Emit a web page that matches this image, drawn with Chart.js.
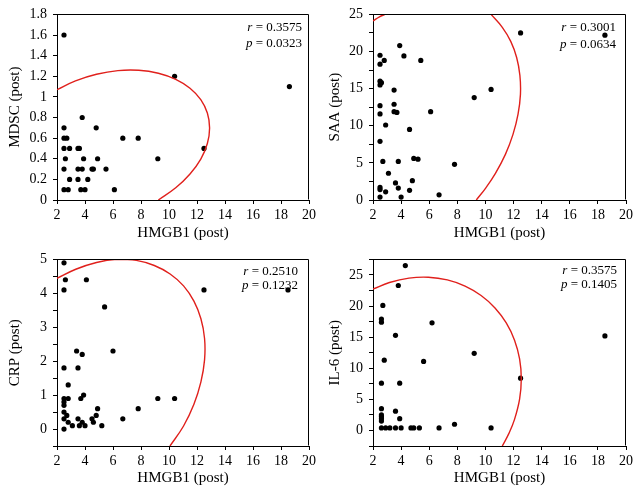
<!DOCTYPE html>
<html>
<head>
<meta charset="utf-8">
<script src="https://cdn.jsdelivr.net/npm/chart.js@4.4.0/dist/chart.umd.min.js"></script>
<style>
  body { margin: 0; background: #fff; }
  #wrap { position: relative; width: 640px; height: 497px; background: #fff; }
  #wrap canvas { position: absolute; }
</style>
</head>
<body>
<div id="wrap">
  <canvas id="c1" width="320" height="245" style="left:0;top:0"></canvas>
  <canvas id="c2" width="320" height="245" style="left:320px;top:0"></canvas>
  <canvas id="c3" width="320" height="252" style="left:0;top:245px"></canvas>
  <canvas id="c4" width="320" height="252" style="left:320px;top:245px"></canvas>
</div>
<script>
// ---- data: HMGB1 (post) vs marker ----
const mdscX = [2.5, 10.4, 18.6, 3.8, 2.5, 4.8, 2.5, 2.7, 6.7, 7.8, 2.5, 2.9, 3.5, 3.6, 12.5, 2.6, 3.9, 4.9, 9.2,
  2.5, 3.5, 3.8, 4.5, 4.6, 5.5, 2.9, 3.5, 4.2, 2.5, 2.8, 3.7, 4.0, 6.1];
const mdscY = [1.6, 1.2, 1.1, 0.8, 0.7, 0.7, 0.6, 0.6, 0.6, 0.6, 0.5, 0.5, 0.5, 0.5, 0.5, 0.4, 0.4, 0.4, 0.4,
  0.3, 0.3, 0.3, 0.3, 0.3, 0.3, 0.2, 0.2, 0.2, 0.1, 0.1, 0.1, 0.1, 0.1];

const saaX = [2.5, 3.9, 2.5, 2.8, 4.2, 5.4, 2.5, 2.6, 2.5, 3.5, 2.5, 3.5, 2.5, 3.5, 3.7, 6.1, 9.2, 10.4, 2.9, 4.6,
  2.5, 2.7, 3.8, 4.9, 5.2, 7.8, 3.1, 3.6, 4.8, 2.5, 2.5, 2.9, 3.8, 4.6, 2.5, 4.0, 6.7, 12.5, 18.5];
const saaY = [19.5, 20.8, 18.3, 18.8, 19.4, 18.8, 16.0, 15.8, 15.5, 14.8, 12.7, 12.9, 11.6, 11.9, 11.8, 11.9, 13.8, 14.9, 10.1, 9.5,
  7.9, 5.2, 5.2, 5.6, 5.5, 4.8, 3.6, 2.3, 2.6, 1.7, 1.4, 1.1, 1.6, 1.3, 0.4, 0.4, 0.7, 22.5, 22.2];

const crpX = [2.5, 2.6, 4.1, 2.5, 12.5, 18.5, 5.4, 3.4, 3.8, 6.0, 2.5, 3.5, 2.8, 3.9, 3.7, 2.5, 2.8, 2.5, 2.5,
  2.5, 2.7, 2.5, 2.8, 3.1, 3.5, 3.6, 3.8, 4.0, 4.5, 4.6, 4.8, 4.9, 5.2, 6.7, 7.8, 9.2, 10.4, 2.5];
const crpY = [4.9, 4.4, 4.4, 4.1, 4.1, 4.1, 3.6, 2.3, 2.2, 2.3, 1.8, 1.8, 1.3, 1.0, 0.9, 0.9, 0.9, 0.8, 0.7,
  0.5, 0.4, 0.3, 0.2, 0.1, 0.3, 0.1, 0.2, 0.1, 0.3, 0.2, 0.4, 0.6, 0.1, 0.3, 0.6, 0.9, 0.9, 0.0];

const il6X = [4.3, 3.8, 2.7, 2.6, 2.6, 6.2, 3.6, 18.5, 9.2, 2.8, 5.6, 2.6, 3.9, 12.5, 2.6, 3.6, 2.6, 2.6, 2.6, 2.6,
  3.9, 7.8, 2.6, 2.9, 3.2, 3.6, 4.0, 4.7, 4.9, 5.3, 6.7, 10.4];
const il6Y = [26.5, 23.3, 20.1, 17.9, 17.4, 17.3, 15.3, 15.2, 12.4, 11.3, 11.1, 7.6, 7.6, 8.4, 3.5, 3.1, 2.5, 2.2, 1.9, 1.5,
  1.9, 1.0, 0.4, 0.4, 0.4, 0.4, 0.4, 0.4, 0.4, 0.4, 0.4, 0.4];

// red ellipse outlines
const mdscCurveX = [2, 3.32, 4.82, 6.35, 7.84, 9.24, 10.48, 11.5, 12.27, 12.74, 12.9, 12.74, 12.27, 11.5, 10.48, 9.24];
const mdscCurveY = [1.07, 1.156, 1.22, 1.255, 1.258, 1.229, 1.17, 1.084, 0.973, 0.843, 0.699, 0.548, 0.397, 0.252, 0.118, 0];
const saaCurveX = [10.4, 11.2, 11.8, 12.22, 12.45, 12.49, 12.32, 11.96, 11.42, 10.7, 10.03, 9.35];
const saaCurveY = [25, 23.26, 21.37, 19.2, 16.8, 14.23, 11.56, 8.84, 6.15, 3.55, 1.64, 0];
const saaCurve2X = [2, 2.46, 2.85];
const saaCurve2Y = [24.12, 24.68, 25];
const crpCurveX = [2, 3.34, 4.82, 6.28, 7.67, 8.95, 10.08, 11.04, 11.78, 12.28, 12.54, 12.54, 12.28, 11.78, 11.04, 10.07];
const crpCurveY = [4.44, 4.71, 4.91, 5.0, 4.97, 4.82, 4.57, 4.22, 3.77, 3.25, 2.67, 2.04, 1.39, 0.73, 0.09, -0.5];
const il6CurveX = [2, 3.17, 4.56, 5.94, 7.29, 8.55, 9.69, 10.68, 11.48, 12.07, 12.43, 12.55, 12.43, 12.07, 11.68, 11.2];
const il6CurveY = [22.73, 23.78, 24.49, 24.63, 24.2, 23.21, 21.7, 19.7, 17.29, 14.52, 11.49, 8.3, 5.03, 1.78, -0.43, -2.5];

const SERIF = '"Liberation Serif", "DejaVu Serif", serif';

function toPts(xs, ys) {
  return xs.map((x, i) => ({ x: x, y: ys[i] }));
}

// frame on top/right + r / p text
const framePlugin = {
  id: 'frame',
  afterDraw(chart, args, opts) {
    const a = chart.chartArea;
    const ctx = chart.ctx;
    ctx.save();
    ctx.strokeStyle = '#000';
    ctx.lineWidth = 1;
    ctx.beginPath();
    ctx.moveTo(Math.round(a.left) + 0.5, Math.round(a.top) + 0.5);
    ctx.lineTo(Math.round(a.right) - 0.5, Math.round(a.top) + 0.5);
    ctx.lineTo(Math.round(a.right) - 0.5, Math.round(a.bottom) - 0.5);
    ctx.stroke();

    ctx.fillStyle = '#000';
    ctx.textBaseline = 'middle';
    ctx.textAlign = 'right';
    const xr = a.right - opts.inset;
    const lines = [['r', opts.r], ['p', opts.p]];
    lines.forEach((ln, i) => {
      const y = a.top + opts.y0 + i * opts.gap;
      ctx.font = '13px ' + SERIF;
      const rest = ' = ' + ln[1];
      ctx.fillText(rest, xr, y);
      const w = ctx.measureText(rest).width;
      ctx.font = 'italic 13px ' + SERIF;
      ctx.fillText(ln[0], xr - w, y);
    });
    ctx.restore();
  }
};

function makeChart(id, o) {
  const ticksFont = { family: SERIF, size: 14 };
  new Chart(document.getElementById(id), {
    type: 'scatter',
    data: {
      datasets: o.curves.map(c => ({
        data: c,
        showLine: true,
        borderColor: '#e0201c',
        borderWidth: 1.4,
        pointRadius: 0,
        tension: 0.4,
        fill: false
      })).concat([{
        data: o.points,
        backgroundColor: '#000',
        borderWidth: 0,
        pointRadius: 2.6,
        pointHoverRadius: 2.6
      }])
    },
    options: {
      responsive: false,
      animation: false,
      events: [],
      layout: { padding: { top: o.top, right: o.right, left: 0, bottom: 0 } },
      plugins: {
        legend: { display: false },
        tooltip: { enabled: false },
        frame: o.stat
      },
      scales: {
        x: {
          type: 'linear', min: 2, max: 20,
          grid: { drawOnChartArea: false, drawTicks: true, tickLength: 4, color: '#000' },
          border: { display: true, color: '#000', width: 1 },
          ticks: { stepSize: 2, color: '#000', font: ticksFont, padding: 3, maxRotation: 0, autoSkip: false },
          title: { display: true, text: 'HMGB1 (post)', color: '#000', font: { family: SERIF, size: 15 }, padding: { top: 0, bottom: o.titlePadB } },
          afterFit(s) { s.height = o.xh; }
        },
        y: {
          type: 'linear', min: o.ymin, max: o.ymax,
          grid: { drawOnChartArea: false, drawTicks: true, tickLength: 4, color: '#000' },
          border: { display: true, color: '#000', width: 1 },
          ticks: {
            stepSize: o.ystep, color: '#000', font: ticksFont, padding: 6, autoSkip: false,
            callback: o.ylabel
          },
          title: { display: true, text: o.ytitle, color: '#000', font: { family: SERIF, size: 15 }, padding: { top: 6, bottom: 0 } },
          afterFit(s) { s.width = o.yw; }
        }
      }
    },
    plugins: [framePlugin]
  });
}

const everyLabel = v => String(Number(v.toFixed(1)));
const fiveLabel = v => (Math.abs(v / 5 - Math.round(v / 5)) < 1e-6 ? String(Math.round(v)) : '');
const intLabel = v => (Math.abs(v - Math.round(v)) < 1e-6 ? String(Math.round(v)) : '');

makeChart('c1', {
  points: toPts(mdscX, mdscY),
  curves: [toPts(mdscCurveX, mdscCurveY)],
  ymin: 0, ymax: 1.8, ystep: 0.2, ylabel: everyLabel, ytitle: 'MDSC (post)',
  top: 12, right: 11, yw: 57, xh: 45, titlePadB: 3,
  stat: { r: '0.3575', p: '0.0323', inset: 7, y0: 13, gap: 16.5 }
});
makeChart('c2', {
  points: toPts(saaX, saaY),
  curves: [toPts(saaCurveX, saaCurveY), toPts(saaCurve2X, saaCurve2Y)],
  ymin: 0, ymax: 25, ystep: 2.5, ylabel: fiveLabel, ytitle: 'SAA (post)',
  top: 12, right: 14, yw: 53, xh: 45, titlePadB: 3,
  stat: { r: '0.3001', p: '0.0634', inset: 10, y0: 13, gap: 17 }
});
makeChart('c3', {
  points: toPts(crpX, crpY),
  curves: [toPts(crpCurveX, crpCurveY)],
  ymin: -0.5, ymax: 5, ystep: 0.5, ylabel: intLabel, ytitle: 'CRP (post)',
  top: 13, right: 11, yw: 57, xh: 51, titlePadB: 10,
  stat: { r: '0.2510', p: '0.1232', inset: 11, y0: 12, gap: 14 }
});
makeChart('c4', {
  points: toPts(il6X, il6Y),
  curves: [toPts(il6CurveX, il6CurveY)],
  ymin: -2.5, ymax: 27.5, ystep: 2.5, ylabel: fiveLabel, ytitle: 'IL-6 (post)',
  top: 13, right: 14, yw: 53, xh: 51, titlePadB: 10,
  stat: { r: '0.3575', p: '0.1405', inset: 9, y0: 11.5, gap: 14 }
});
</script>
</body>
</html>
